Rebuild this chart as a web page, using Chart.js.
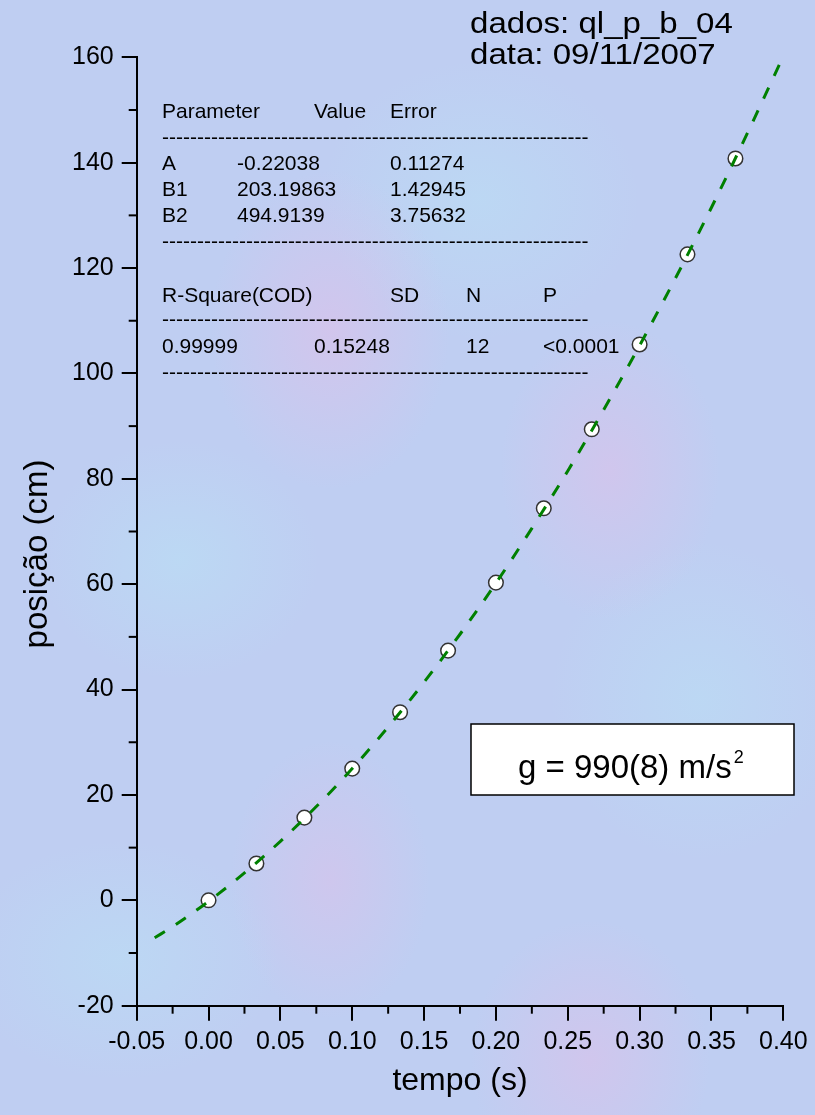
<!DOCTYPE html>
<html><head><meta charset="utf-8">
<script src="https://cdn.jsdelivr.net/npm/chart.js@4.4.1/dist/chart.umd.min.js"></script>
<style>
html,body{margin:0;padding:0;}
body{width:815px;height:1115px;overflow:hidden;background-color:#bfcef2;
background-image:
 radial-gradient(ellipse 120px 160px at 330px 330px, rgba(225,190,232,0.55), rgba(225,190,232,0) 100%),
 radial-gradient(ellipse 110px 150px at 610px 470px, rgba(225,190,232,0.5), rgba(225,190,232,0) 100%),
 radial-gradient(ellipse 120px 140px at 590px 1060px, rgba(225,190,232,0.5), rgba(225,190,232,0) 100%),
 radial-gradient(ellipse 100px 140px at 330px 880px, rgba(225,190,232,0.45), rgba(225,190,232,0) 100%),
 radial-gradient(ellipse 140px 120px at 180px 560px, rgba(185,225,245,0.55), rgba(185,225,245,0) 100%),
 radial-gradient(ellipse 160px 140px at 480px 200px, rgba(185,225,245,0.5), rgba(185,225,245,0) 100%),
 radial-gradient(ellipse 150px 160px at 700px 700px, rgba(185,225,245,0.5), rgba(185,225,245,0) 100%),
 radial-gradient(ellipse 160px 120px at 120px 960px, rgba(185,225,245,0.5), rgba(185,225,245,0) 100%);}
canvas{display:block}
</style></head><body>
<canvas id="c" width="815" height="1115"></canvas>
<script>
// measured data (tempo in s, posição in cm)
const times = [0, 0.0333, 0.0667, 0.1, 0.1333, 0.1667, 0.2, 0.2333, 0.2667, 0.3, 0.3333, 0.3667];
const positions = [0.0, 7.0, 15.7, 25.0, 35.7, 47.4, 60.3, 74.4, 89.4, 105.5, 122.6, 140.8];
// fitted curve
const fitTimes = [-0.0375, -0.025, 0, 0.025, 0.05, 0.075, 0.1, 0.125, 0.15, 0.175, 0.2, 0.225, 0.25, 0.275, 0.3, 0.325, 0.35, 0.375, 0.4];
const fitPositions = [-7.1, -5.0, -0.2, 5.2, 11.2, 17.8, 25.0, 32.9, 41.4, 50.5, 60.2, 70.6, 81.5, 93.1, 105.3, 118.1, 131.5, 145.6, 160.2];
// tick settings
const xMin = -0.05, xMax = 0.40, xStep = 0.05;
const yMin = -20, yMax = 160, yStep = 20;
// text content
const titleLines = ["dados: ql_p_b_04", "data: 09/11/2007"];
const paramHeader = ["Parameter", "Value", "Error"];
const paramRows = [["A", "-0.22038", "0.11274"], ["B1", "203.19863", "1.42945"], ["B2", "494.9139", "3.75632"]];
const statHeader = ["R-Square(COD)", "SD", "N", "P"];
const statValues = ["0.99999", "0.15248", "12", "<0.0001"];
const gText = "g = 990(8) m/s";
const gSup = "2";
const xTitle = "tempo (s)";
const yTitle = "posição (cm)";

const FONT = '"Liberation Sans", Arial, sans-serif';

const extras = {
  id: 'extras',
  afterDraw(chart) {
    const ctx = chart.ctx;
    const xs = chart.scales.x, ys = chart.scales.y;
    ctx.save();
    ctx.strokeStyle = '#000';
    ctx.lineWidth = 2;
    // minor ticks between major ticks
    const xt = xs.ticks.map(t => t.value);
    for (let i = 0; i < xt.length - 1; i++) {
      const px = xs.getPixelForValue((xt[i] + xt[i + 1]) / 2);
      ctx.beginPath(); ctx.moveTo(px, xs.top); ctx.lineTo(px, xs.top + 8); ctx.stroke();
    }
    const yt = ys.ticks.map(t => t.value);
    for (let i = 0; i < yt.length - 1; i++) {
      const py = ys.getPixelForValue((yt[i] + yt[i + 1]) / 2);
      ctx.beginPath(); ctx.moveTo(ys.right, py); ctx.lineTo(ys.right - 8, py); ctx.stroke();
    }
    ctx.fillStyle = '#000';
    // y axis title
    ctx.save();
    ctx.translate(38, 554);
    ctx.rotate(-Math.PI / 2);
    ctx.font = '33px ' + FONT;
    ctx.textAlign = 'center';
    ctx.textBaseline = 'middle';
    ctx.fillText(yTitle, 0, 0);
    ctx.restore();
    // title lines
    ctx.textBaseline = 'alphabetic';
    ctx.textAlign = 'left';
    ctx.font = '29px ' + FONT;
    [[titleLines[0], 33], [titleLines[1], 64]].forEach(([t, y]) => {
      ctx.save(); ctx.translate(470, y); ctx.scale(1.14, 1); ctx.fillText(t, 0, 0); ctx.restore();
    });
    // parameter table
    ctx.font = '21px ' + FONT;
    const c1 = 162, c2 = 237, c3 = 314, c4 = 390, c5 = 466, c6 = 543;
    ctx.fillText(paramHeader[0], c1, 118);
    ctx.fillText(paramHeader[1], c3, 118);
    ctx.fillText(paramHeader[2], c4, 118);
    const rowY = [170, 196, 222];
    paramRows.forEach((r, i) => {
      ctx.fillText(r[0], c1, rowY[i]);
      ctx.fillText(r[1], c2, rowY[i]);
      ctx.fillText(r[2], c4, rowY[i]);
    });
    ctx.fillText(statHeader[0], c1, 302);
    ctx.fillText(statHeader[1], c4, 302);
    ctx.fillText(statHeader[2], c5, 302);
    ctx.fillText(statHeader[3], c6, 302);
    ctx.fillText(statValues[0], c1, 353);
    ctx.fillText(statValues[1], c3, 353);
    ctx.fillText(statValues[2], c5, 353);
    ctx.fillText(statValues[3], c6, 353);
    // dashed separator lines made of hyphens
    let dash = '';
    while (ctx.measureText(dash + '-').width <= 430) dash += '-';
    [144, 248, 326, 379].forEach(y => ctx.fillText(dash, c1, y));
    // g box
    ctx.fillStyle = '#fff';
    ctx.fillRect(471, 724, 323, 71);
    ctx.lineWidth = 1.5;
    ctx.strokeRect(471, 724, 323, 71);
    ctx.fillStyle = '#000';
    ctx.font = '33px ' + FONT;
    ctx.fillText(gText, 518, 778);
    const w = ctx.measureText(gText).width;
    ctx.font = '18px ' + FONT;
    ctx.fillText(gSup, 518 + w + 2, 763);
    ctx.restore();
  }
};

new Chart(document.getElementById('c'), {
  type: 'scatter',
  data: {
    datasets: [
      {
        label: 'dados',
        data: times.map((t, i) => ({x: t, y: positions[i]})),
        pointRadius: 7.3,
        pointBackgroundColor: '#ffffff',
        pointBorderColor: '#333333',
        pointBorderWidth: 1.5,
        order: 5
      },
      {
        label: 'ajuste',
        data: fitTimes.map((t, i) => ({x: t, y: fitPositions[i]})),
        showLine: true,
        borderColor: '#008000',
        borderWidth: 3,
        borderDash: [12, 13],
        pointRadius: 0,
        cubicInterpolationMode: 'monotone',
        fill: false,
        order: 1
      }
    ]
  },
  options: {
    responsive: false,
    animation: false,
    devicePixelRatio: 1,
    layout: {padding: {left: 0, top: 57.3, right: 31.7, bottom: 0}},
    plugins: {legend: {display: false}, tooltip: {enabled: false}},
    scales: {
      x: {
        type: 'linear', min: xMin, max: xMax,
        afterFit(s) { s.height = 109.3; },
        ticks: {stepSize: xStep, color: '#000', padding: 6, maxRotation: 0,
          font: {family: FONT, size: 25},
          callback: v => (Math.abs(v) < 1e-9 ? 0 : v).toFixed(2)},
        grid: {display: true, drawOnChartArea: false, drawTicks: true, tickLength: 15, color: '#000', lineWidth: 2},
        border: {display: true, color: '#000', width: 2},
        title: {display: true, text: xTitle, color: '#000', font: {family: FONT, size: 32, lineHeight: 1}, padding: {top: 0, bottom: 18}}
      },
      y: {
        type: 'linear', min: yMin, max: yMax,
        afterFit(s) { s.width = 136.7; },
        ticks: {stepSize: yStep, color: '#000', padding: 8,
          font: {family: FONT, size: 25}},
        grid: {display: true, drawOnChartArea: false, drawTicks: true, tickLength: 15, color: '#000', lineWidth: 2},
        border: {display: true, color: '#000', width: 2},
        title: {display: false}
      }
    }
  },
  plugins: [extras]
});
</script>
</body></html>
